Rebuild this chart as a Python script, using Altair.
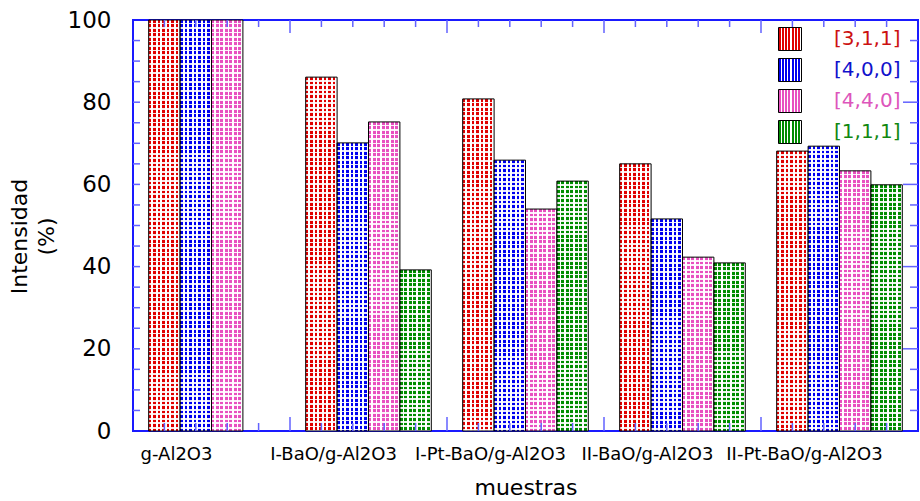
import altair as alt
import pandas as pd

# ---- data ----
muestras = ["g-Al2O3", "I-BaO/g-Al2O3", "I-Pt-BaO/g-Al2O3", "II-BaO/g-Al2O3", "II-Pt-BaO/g-Al2O3"]
series = ["[3,1,1]", "[4,0,0]", "[4,4,0]", "[1,1,1]"]
v_311 = [100, 86.1, 80.8, 65.0, 68.1]
v_400 = [100, 70.1, 65.9, 51.6, 69.3]
v_440 = [100, 75.2, 54.0, 42.3, 63.3]
v_111 = [None, 39.2, 60.8, 40.9, 59.9]

# series colours (pattern colour, light gap colour, legend text colour)
pat_colors = ["#e00000", "#0000f0", "#e850c0", "#008c00"]
gap_colors = ["#ffffff", "#ffffff", "#ffffff", "#ffffff"]
text_colors = ["#cc1111", "#1111cc", "#dd55bb", "#118811"]

# axis tick positions (frame ticks, drawn inward)
x_ticks = list(range(1, 25))
x_major = [5, 10, 15, 20]
y_ticks = list(range(5, 100, 5))
y_major = [20, 40, 60, 80]

rows = []
for i, m in enumerate(muestras):
    for s, vals in zip(series, [v_311, v_400, v_440, v_111]):
        if vals[i] is not None:
            rows.append({"muestra": m, "serie": s, "valor": vals[i]})
df = pd.DataFrame(rows)

N_V = 7          # vertical hatch periods across a bar
FRAC = 0.62      # coloured share of each hatch period
PERIOD = 4.49    # hatch period in pixels (horizontal rows)


def grad_expr(c, light, n=N_V, frac=FRAC):
    parts = []
    for k in range(n):
        a = k / n
        b = (k + frac) / n
        e = (k + 1) / n
        parts += [
            f"{{offset:{a:.4f},color:'{c}'}}",
            f"{{offset:{b:.4f},color:'{c}'}}",
            f"{{offset:{b:.4f},color:'{light}'}}",
            f"{{offset:{e:.4f},color:'{light}'}}",
        ]
    return "{gradient:'linear',x1:0,y1:0,x2:1,y2:0,stops:[" + ",".join(parts) + "]}"


def hrows_expr(nmax=95, frac=FRAC):
    clear = "rgba(255,255,255,0)"
    white = "rgba(255,255,255,0.9)"
    parts = []
    for k in range(nmax):
        a, b, e = k, k + frac, k + 1
        parts += [
            f"{{offset:min(1,{a}*datum.r),color:'{clear}'}}",
            f"{{offset:min(1,{b:.2f}*datum.r),color:'{clear}'}}",
            f"{{offset:min(1,{b:.2f}*datum.r),color:'{white}'}}",
            f"{{offset:min(1,{e}*datum.r),color:'{white}'}}",
        ]
    return "{gradient:'linear',x1:0,y1:0,x2:0,y2:1,stops:[" + ",".join(parts) + "]}"


fill_range = [{"expr": grad_expr(c, g)} for c, g in zip(pat_colors, gap_colors)]
label_color_expr = (
    f"datum.value == '{series[0]}' ? '{text_colors[0]}' : "
    f"datum.value == '{series[1]}' ? '{text_colors[1]}' : "
    f"datum.value == '{series[2]}' ? '{text_colors[2]}' : '{text_colors[3]}'"
)

W, H = 785, 411
FONT = "DejaVu Sans"

yscale = alt.Scale(domain=[0, 100], nice=False, zero=True)
xband = alt.Scale(domain=muestras, paddingInner=0.2, paddingOuter=0.1)
xoff = alt.XOffset("serie:N", sort=series, scale=alt.Scale(domain=series, paddingInner=0, paddingOuter=0))

bars = alt.Chart(df).mark_bar(strokeWidth=0).encode(
    x=alt.X(
        "muestra:N",
        sort=muestras,
        scale=xband,
        axis=alt.Axis(
            title="muestras",
            labelAngle=0,
            labelOffset=-35,
            labelPadding=14,
            tickSize=0,
            domain=False,
            labelFont=FONT,
            labelFontSize=18,
            labelColor="black",
            titleFont=FONT,
            titleFontSize=22,
            titleFontWeight="normal",
            titleColor="black",
            titlePadding=14,
        ),
    ),
    xOffset=xoff,
    y=alt.Y(
        "valor:Q",
        scale=yscale,
        axis=alt.Axis(
            title=["Intensidad", "(%)"],
            values=[0, 20, 40, 60, 80, 100],
            tickSize=0,
            domain=False,
            grid=False,
            labelPadding=22,
            labelFont=FONT,
            labelFontSize=23,
            labelColor="black",
            titleFont=FONT,
            titleFontSize=22,
            titleFontWeight="normal",
            titleColor="black",
            titleLineHeight=27,
            titleX=-102,
            titleY=216,
        ),
    ),
    color=alt.Color(
        "serie:N",
        sort=series,
        scale=alt.Scale(domain=series, range=fill_range),
        legend=alt.Legend(
            title=None,
            orient="none",
            legendX=645,
            legendY=7,
            symbolType="square",
            symbolSize=529,
            symbolStrokeColor="black",
            symbolStrokeWidth=1,
            symbolOpacity=1,
            labelFont=FONT,
            labelFontSize=20,
            labelOffset=32,
            labelColor={"expr": label_color_expr},
            rowPadding=3,
        ),
    ),
)

# horizontal hatch rows + outline over each bar (crosshatch look)
overlay = (
    alt.Chart(df)
    .transform_calculate(r=f"{PERIOD} / max(1, datum.valor * height / 100)")
    .transform_calculate(hg=hrows_expr())
    .mark_bar(stroke="black", strokeWidth=1)
    .encode(
        x=alt.X("muestra:N", sort=muestras, scale=xband, axis=None),
        xOffset=xoff,
        y=alt.Y("valor:Q", scale=yscale, axis=None),
        fill=alt.Fill("hg:N", scale=None, legend=None),
    )
)

# x frame ticks (top and bottom)
xt = pd.DataFrame({"t": x_ticks, "major": [t in x_major for t in x_ticks]})
xq = alt.X("t:Q", scale=alt.Scale(domain=[0, 25], nice=False, zero=True), axis=None)
tick_col = "#6262ff"
x_top_minor = alt.Chart(xt).transform_filter("!datum.major").mark_rule(color=tick_col, strokeWidth=1.5).encode(
    x=xq, y=alt.value(0), y2=alt.value(7))
x_top_major = alt.Chart(xt).transform_filter("datum.major").mark_rule(color=tick_col, strokeWidth=1.5).encode(
    x=xq, y=alt.value(0), y2=alt.value(13))
x_bot_minor = alt.Chart(xt).transform_filter("!datum.major").mark_rule(color=tick_col, strokeWidth=1.5).encode(
    x=xq, y=alt.value(H), y2=alt.value(H - 8))
x_bot_major = alt.Chart(xt).transform_filter("datum.major").mark_rule(color=tick_col, strokeWidth=1.5).encode(
    x=xq, y=alt.value(H), y2=alt.value(H - 14))

# y frame ticks (left and right)
yt = pd.DataFrame({"v": y_ticks, "major": [v in y_major for v in y_ticks]})
yq = alt.Y("v:Q", scale=yscale, axis=None)
y_left = alt.Chart(yt).mark_rule(color=tick_col, strokeWidth=1.5).encode(
    y=yq, x=alt.value(0), x2=alt.value(7))
y_right_minor = alt.Chart(yt).transform_filter("!datum.major").mark_rule(color=tick_col, strokeWidth=1.5).encode(
    y=yq, x=alt.value(W), x2=alt.value(W - 8))
y_right_major = alt.Chart(yt).transform_filter("datum.major").mark_rule(color=tick_col, strokeWidth=1.5).encode(
    y=yq, x=alt.value(W), x2=alt.value(W - 15))

chart = (
    alt.layer(bars, overlay, x_top_minor, x_top_major, x_bot_minor, x_bot_major, y_left, y_right_minor, y_right_major)
    .resolve_scale(x="independent")
    .resolve_axis(y="independent")
    .properties(
        width=W,
        height=H,
        padding={"left": 133, "top": 20, "right": 2, "bottom": 70},
        autosize=alt.AutoSizeParams(type="none"),
        background="white",
    )
    .configure_view(stroke="#1a1aff", strokeWidth=2)
    .configure_axis(grid=False)
)

chart.save("out.html", embed_options={"renderer": "svg", "actions": False})
